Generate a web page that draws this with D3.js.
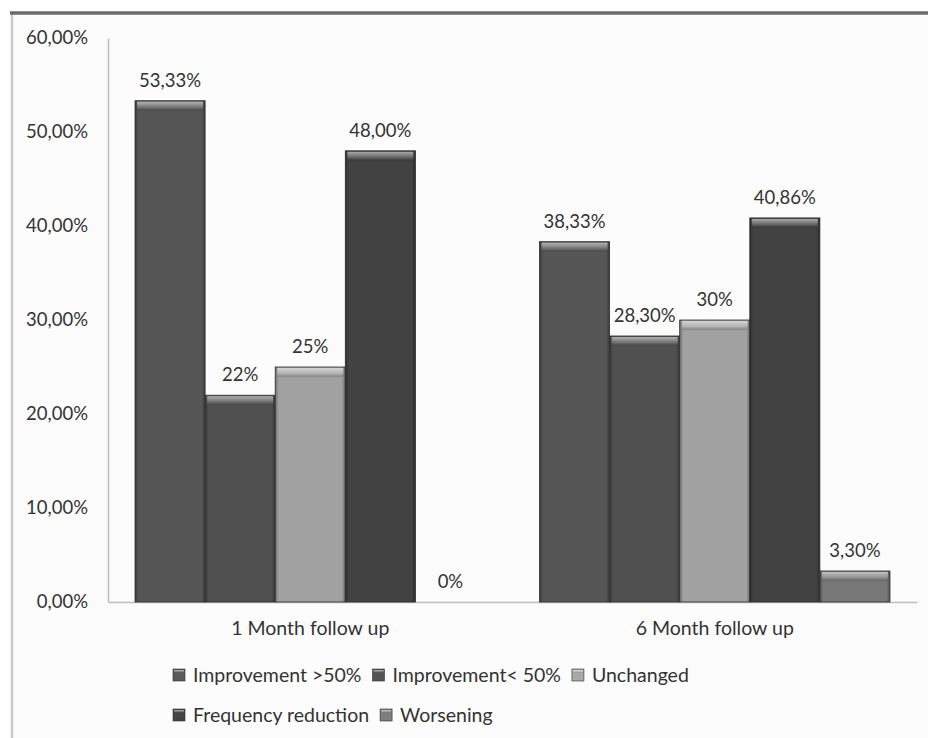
<!DOCTYPE html>
<html>
<head>
<meta charset="utf-8">
<script src="https://cdn.jsdelivr.net/npm/d3@7"></script>
<style>
  html, body { margin: 0; padding: 0; background: #ffffff; }
  svg { display: block; }
  text { font-family: Lato, "Open Sans", sans-serif; fill: #333333; }
</style>
</head>
<body>
<svg id="chart" width="928" height="738"></svg>
<script>
// Follow-up groups on the x axis
const categories = ["1 Month follow up", "6 Month follow up"];
// Outcome series, in legend order
const seriesNames = ["Improvement >50%", "Improvement< 50%", "Unchanged", "Frequency reduction", "Worsening"];
// Percent of patients per outcome at each follow-up
const month1Values = [53.33, 22, 25, 48, 0];
const month6Values = [38.33, 28.30, 30, 40.86, 3.30];
// Value labels as printed above the bars
const month1Labels = ["53,33%", "22%", "25%", "48,00%", "0%"];
const month6Labels = ["38,33%", "28,30%", "30%", "40,86%", "3,30%"];
// Y axis ticks
const yTicks = [0, 10, 20, 30, 40, 50, 60];
const yTickLabels = ["0,00%", "10,00%", "20,00%", "30,00%", "40,00%", "50,00%", "60,00%"];

const seriesColors = ["#5a5a5a", "#545454", "#a9a9a9", "#454545", "#7e7e7e"];

const svg = d3.select("#chart");
const W = 928, H = 738;
const FONT = "Lato, 'Open Sans', sans-serif";

// chart frame
svg.append("rect").attr("x", 12).attr("y", 13).attr("width", W - 12).attr("height", H - 13).attr("fill", "#fcfcfc");
svg.append("line").attr("x1", 12).attr("x2", 12).attr("y1", 13).attr("y2", H)
  .attr("stroke", "#c9c9c9").attr("stroke-width", 2.5);
svg.append("line").attr("x1", 10).attr("x2", W).attr("y1", 13).attr("y2", 13)
  .attr("stroke", "#6b6b6b").attr("stroke-width", 3.5);

const plot = { left: 108, right: 917, top: 38, bottom: 602 };

const y = d3.scaleLinear().domain([0, 60]).range([plot.bottom, plot.top]);
const x0 = d3.scaleBand().domain(categories).range([plot.left, plot.right]).padding(0);
const x1 = d3.scaleBand().domain(seriesNames)
  .range([x0.bandwidth() * 0.0668, x0.bandwidth() * (1 - 0.0668)]).padding(0);

// gradients for the bevelled bar look
const defs = svg.append("defs");
const sideGrad = defs.append("linearGradient").attr("id", "sideShade").attr("x1", 0).attr("x2", 1).attr("y1", 0).attr("y2", 0);
sideGrad.append("stop").attr("offset", "0%").attr("stop-color", "#000").attr("stop-opacity", 0.35);
sideGrad.append("stop").attr("offset", "5%").attr("stop-color", "#000").attr("stop-opacity", 0.05);
sideGrad.append("stop").attr("offset", "95%").attr("stop-color", "#000").attr("stop-opacity", 0.05);
sideGrad.append("stop").attr("offset", "100%").attr("stop-color", "#000").attr("stop-opacity", 0.35);
const shineGrad = defs.append("linearGradient").attr("id", "topShine").attr("x1", 0).attr("x2", 0).attr("y1", 0).attr("y2", 1);
shineGrad.append("stop").attr("offset", "0%").attr("stop-color", "#fff").attr("stop-opacity", 0.55);
shineGrad.append("stop").attr("offset", "60%").attr("stop-color", "#fff").attr("stop-opacity", 0.2);
shineGrad.append("stop").attr("offset", "100%").attr("stop-color", "#000").attr("stop-opacity", 0.15);

// axes
const yAxis = d3.axisLeft(y).tickValues(yTicks).tickSize(0).tickPadding(20)
  .tickFormat((d, i) => yTickLabels[i]);
const gy = svg.append("g").attr("transform", `translate(${plot.left},0)`).call(yAxis);
gy.select(".domain").attr("stroke", "#bdbdbd").attr("stroke-width", 1.5);
gy.selectAll("text").attr("font-size", 18.5).attr("fill", "#333").style("font-family", FONT);

const xAxis = d3.axisBottom(x0).tickSize(0).tickPadding(19);
const gx = svg.append("g").attr("transform", `translate(0,${plot.bottom})`).call(xAxis);
gx.select(".domain").attr("stroke", "#bdbdbd").attr("stroke-width", 1.5);
gx.selectAll("text").attr("font-size", 19.5).attr("fill", "#2e2e2e").style("font-family", FONT);

// bars
const rows = [
  { cat: categories[0], values: month1Values, labels: month1Labels },
  { cat: categories[1], values: month6Values, labels: month6Labels }
];
rows.forEach(row => {
  const g = svg.append("g").attr("transform", `translate(${x0(row.cat)},0)`);
  seriesNames.forEach((s, i) => {
    const v = row.values[i];
    const bx = x1(s), bw = x1.bandwidth();
    const by = y(v), bh = y(0) - y(v);
    if (bh > 0) {
      g.append("rect").attr("x", bx).attr("y", by).attr("width", bw).attr("height", bh)
        .attr("fill", seriesColors[i]);
      g.append("rect").attr("x", bx).attr("y", by).attr("width", bw).attr("height", bh)
        .attr("fill", "url(#sideShade)");
      g.append("rect").attr("x", bx + 2).attr("y", by + 1).attr("width", bw - 4).attr("height", Math.min(9, bh - 1))
        .attr("fill", "url(#topShine)");
      g.append("rect").attr("x", bx).attr("y", by).attr("width", bw).attr("height", bh)
        .attr("fill", "none").attr("stroke", "#2f2f2f").attr("stroke-width", 0.8);
    }
    g.append("text").attr("x", bx + bw / 2).attr("y", by - 14)
      .attr("text-anchor", "middle").attr("font-size", 18.5).text(row.labels[i]);
  });
});

// legend, two rows
const legendRows = [[0, 1, 2], [3, 4]];
const legendTops = [675, 715];
legendRows.forEach((items, r) => {
  let cx = 173;
  items.forEach(i => {
    const cy = legendTops[r];
    svg.append("rect").attr("x", cx).attr("y", cy - 6).attr("width", 12).attr("height", 12)
      .attr("fill", seriesColors[i]).attr("stroke", "#2f2f2f").attr("stroke-width", 0.6);
    svg.append("rect").attr("x", cx + 1).attr("y", cy - 5).attr("width", 10).attr("height", 3)
      .attr("fill", "url(#topShine)");
    const t = svg.append("text").attr("x", cx + 20).attr("y", cy + 7)
      .attr("font-size", 19.5).attr("fill", "#2e2e2e").text(seriesNames[i]);
    cx += 20 + t.node().getComputedTextLength() + 11;
  });
});
</script>
</body>
</html>
